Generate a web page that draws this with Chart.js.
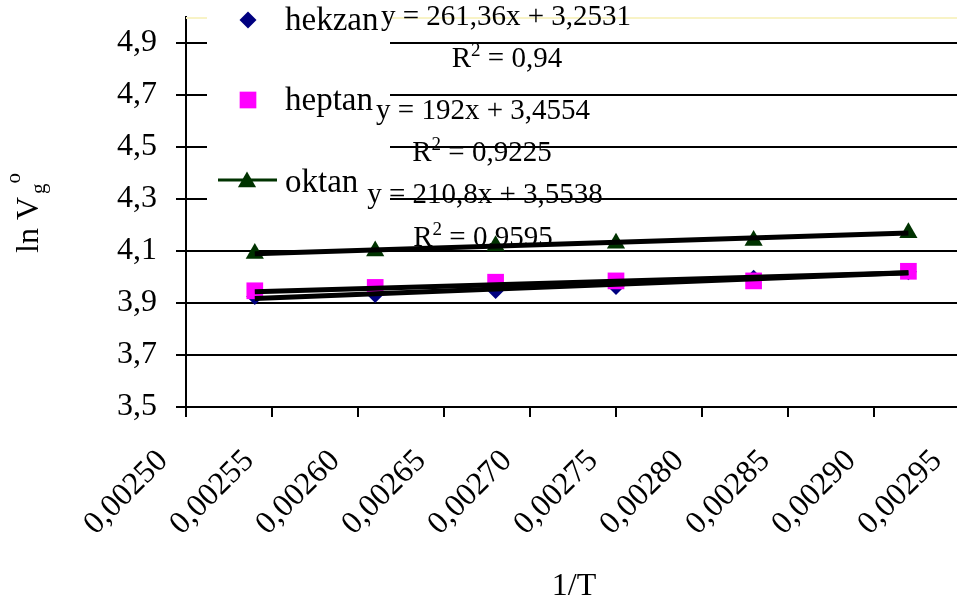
<!DOCTYPE html>
<html>
<head>
<meta charset="utf-8">
<script src="https://cdn.jsdelivr.net/npm/chart.js@4/dist/chart.umd.min.js"></script>
<style>
  html, body { margin: 0; padding: 0; background: #fff; overflow: hidden; width: 957px; height: 605px; }
  #wrap { position: relative; width: 957px; height: 605px; overflow: hidden; }
  canvas { display: block; }
</style>
</head>
<body>
<div id="wrap"><canvas id="c" width="1000" height="605"></canvas></div>
<script>
// Reciprocal temperature (1/K) and ln Vg° for each alkane
const invT = [0.00254, 0.00261, 0.00268, 0.00275, 0.00283, 0.00292];
const hekzan = [3.925, 3.933, 3.948, 3.963, 3.995, 4.02];
const heptan = [3.947, 3.96, 3.98, 3.985, 3.985, 4.022];
const oktan = [4.09, 4.10, 4.12, 4.13, 4.14, 4.17];

const seriesNames = ['hekzan', 'heptan', 'oktan'];
// Linear fits y = a·x + b and their R²
const slopes = [261.36, 192, 210.8];
const intercepts = [3.2531, 3.4554, 3.5538];
const r2Values = [0.94, 0.9225, 0.9595];

const xTicks = [0.00250, 0.00255, 0.00260, 0.00265, 0.00270, 0.00275, 0.00280, 0.00285, 0.00290, 0.00295];
const yTicks = [3.5, 3.7, 3.9, 4.1, 4.3, 4.5, 4.7, 4.9];

const FONT = '"Liberation Serif", "Times New Roman", serif';
const comma = v => String(v).replace('.', ',');
const xLabel = v => v.toFixed(5).replace('.', ',');

const styles = [
  { pointStyle: 'rectRot', radius: 8.5, color: '#000080' },
  { pointStyle: 'rect', radius: 11.8, color: '#ff00ff' },
  { pointStyle: 'triangle', radius: 10.5, color: '#003300' }
];
const values = [hekzan, heptan, oktan];

const pointSets = values.map((ys, i) => ({
  label: seriesNames[i],
  data: invT.map((x, k) => ({ x, y: ys[k] })),
  showLine: false,
  pointStyle: styles[i].pointStyle,
  pointRadius: styles[i].radius,
  pointHoverRadius: styles[i].radius,
  pointBackgroundColor: styles[i].color,
  pointBorderWidth: 0,
  backgroundColor: styles[i].color,
  borderColor: styles[i].color,
  order: 3 - i
}));

const first = invT[0], last = invT[invT.length - 1];
const trendSets = slopes.map((a, i) => ({
  label: seriesNames[i] + ' fit',
  data: [{ x: first, y: a * first + intercepts[i] }, { x: last, y: a * last + intercepts[i] }],
  showLine: true,
  borderColor: '#000',
  borderWidth: 5,
  pointRadius: 0,
  order: 0
}));

// Legend entries (marker centre, text baseline) and fit label anchors (centre x, baseline y)
const legendPos = [[248, 20, 30], [248, 100, 110], [247, 180, 192]];
const eqPos = [[506, 25, 507, 67], [483, 119, 482, 161], [485, 203, 483, 246]];

const overlay = {
  id: 'overlay',
  beforeDatasetsDraw(chart) {
    const ctx = chart.ctx, a = chart.chartArea;
    ctx.save();
    // pale top edge of the plot area
    ctx.strokeStyle = '#f8f3c6';
    ctx.lineWidth = 2;
    ctx.beginPath();
    ctx.moveTo(a.left, a.top + 1);
    ctx.lineTo(a.right, a.top + 1);
    ctx.stroke();

    // legend box
    ctx.fillStyle = '#fff';
    ctx.fillRect(207, 0, 183, 218);
    ctx.font = '33px ' + FONT;
    ctx.textAlign = 'left';
    ctx.textBaseline = 'alphabetic';
    seriesNames.forEach((name, i) => {
      const [mx, my, by] = legendPos[i];
      if (i === 2) {
        ctx.strokeStyle = styles[i].color;
        ctx.lineWidth = 3;
        ctx.beginPath();
        ctx.moveTo(218, my);
        ctx.lineTo(277, my);
        ctx.stroke();
      }
      ctx.fillStyle = styles[i].color;
      Chart.helpers.drawPoint(ctx, {
        pointStyle: styles[i].pointStyle, radius: styles[i].radius, rotation: 0, borderWidth: 0
      }, mx, my + (i === 2 ? 2 : 0));
      ctx.fillStyle = '#000';
      ctx.fillText(name, 285, by);
    });

    // fit equations and R²
    ctx.fillStyle = '#000';
    slopes.forEach((s, i) => {
      const [ex, ey, rx, ry] = eqPos[i];
      ctx.font = '29px ' + FONT;
      ctx.textAlign = 'center';
      ctx.fillText('y = ' + comma(s) + 'x + ' + comma(intercepts[i]), ex, ey);
      const rest = ' = ' + comma(r2Values[i]);
      ctx.textAlign = 'left';
      ctx.font = '29px ' + FONT;
      const wR = ctx.measureText('R').width;
      const wRest = ctx.measureText(rest).width;
      ctx.font = '19px ' + FONT;
      const w2 = ctx.measureText('2').width;
      let x0 = rx - (wR + w2 + wRest) / 2;
      ctx.font = '29px ' + FONT;
      ctx.fillText('R', x0, ry);
      ctx.font = '19px ' + FONT;
      ctx.fillText('2', x0 + wR, ry - 11);
      ctx.font = '29px ' + FONT;
      ctx.fillText(rest, x0 + wR + w2, ry);
    });
    ctx.restore();
  },
  afterDraw(chart) {
    const ctx = chart.ctx, xs = chart.scales.x, a = chart.chartArea;
    ctx.save();
    ctx.fillStyle = '#000';
    ctx.textBaseline = 'alphabetic';

    // x tick labels, slanted 45°, ending just below-left of each tick
    ctx.font = '32px ' + FONT;
    ctx.textAlign = 'right';
    xTicks.forEach(v => {
      const px = xs.getPixelForValue(v);
      ctx.save();
      ctx.translate(px - 17, a.bottom + 55);
      ctx.rotate(-Math.PI / 4);
      ctx.fillText(xLabel(v), 0, 0);
      ctx.restore();
    });

    // x title
    ctx.textAlign = 'center';
    ctx.fillText('1/T', 574, 595);

    // y title: ln Vg°
    ctx.translate(38, 253);
    ctx.rotate(-Math.PI / 2);
    ctx.textAlign = 'left';
    ctx.font = '32px ' + FONT;
    const main = 'ln V';
    const wm = ctx.measureText(main).width;
    ctx.fillText(main, 0, 0);
    ctx.font = '21px ' + FONT;
    const wg = ctx.measureText('g').width;
    ctx.fillText('g', wm + 3, 7);
    ctx.fillText('o', wm + 3 + wg, -18);
    ctx.restore();
  }
};

new Chart(document.getElementById('c'), {
  type: 'scatter',
  data: { datasets: [...trendSets, ...pointSets] },
  options: {
    responsive: false,
    animation: false,
    devicePixelRatio: 1,
    layout: { padding: { left: 0, top: 17, right: 40, bottom: 0 } },
    plugins: { legend: { display: false }, tooltip: { enabled: false } },
    scales: {
      x: {
        type: 'linear',
        min: 0.0025,
        max: 0.00295,
        afterBuildTicks: s => { s.ticks = xTicks.map(v => ({ value: v })); },
        afterFit: s => { s.height = 198; s.paddingLeft = 0; s.paddingRight = 0; },
        grid: { drawOnChartArea: false, drawTicks: true, tickLength: 10, color: '#000', lineWidth: 2 },
        border: { display: true, color: '#000', width: 2 },
        ticks: { display: false, autoSkip: false }
      },
      y: {
        type: 'linear',
        min: 3.5,
        max: 5.0,
        afterBuildTicks: s => { s.ticks = yTicks.map(v => ({ value: v })); },
        afterFit: s => { s.width = 186; s.paddingTop = 0; s.paddingBottom = 0; },
        grid: { color: '#000', lineWidth: 2, tickLength: 10, drawTicks: true },
        border: { display: true, color: '#000', width: 2 },
        ticks: {
          padding: 19, color: '#000',
          font: { family: FONT, size: 32 },
          callback: v => v.toFixed(1).replace('.', ',')
        }
      }
    }
  },
  plugins: [overlay]
});
</script>
</body>
</html>
